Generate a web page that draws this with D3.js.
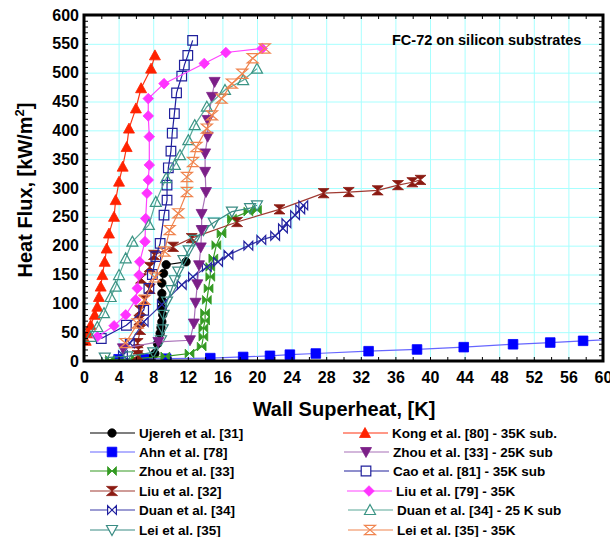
<!DOCTYPE html>
<html>
<head>
<meta charset="utf-8">
<script src="https://cdn.jsdelivr.net/npm/d3@7"></script>
<style>
  body { margin: 0; background: #fff; }
  text { font-family: "Liberation Sans", Arial, sans-serif; font-weight: bold; }
</style>
</head>
<body>
<svg id="chart" width="610" height="537"></svg>
<script>
// ---- data: [wall superheat K, heat flux kW/m2] ----
const ujereh = [[7.8,5],[8.2,13],[8.5,30],[8.8,48],[8.9,58],[9.0,68],[9.1,80],[9.0,92],[9.0,105],[9.0,117],[9.0,135],[9.2,152],[9.5,167],[11.8,172]];
const ahn = [[4.0,3],[6.9,3.5],[9.5,4],[14.6,5],[18.4,7],[21.5,9],[23.8,11],[26.8,13],[32.9,17],[38.5,20],[43.9,24],[49.6,29],[53.9,32],[57.7,35],[62,38]];
const zhou33 = [[3,2],[6,4],[9.4,8],[12.2,13],[13.6,25],[13.8,42],[13.8,57],[14.0,70],[14.0,83],[14.2,106],[14.4,126],[14.6,146],[14.6,163],[14.95,178],[15.3,201],[15.9,221],[17.1,247],[19.0,259],[20.0,262]];
const liu32 = [[6.2,10],[6.3,20],[6.2,31],[6.5,54],[6.4,71],[6.5,88],[7.0,106],[7.6,125],[6.6,143],[7.6,163],[8.1,184],[10.3,198],[12.45,213],[17.7,241],[22.6,263],[27.7,291],[30.6,293],[33.95,296],[36.3,305],[37.96,310],[38.9,314]];
const duan34 = [[4.5,10],[5.3,31],[6.9,68],[9.0,98],[11.3,132],[12.6,146],[14.2,163],[15.5,172],[16.7,184],[19.0,200],[20.5,210],[22.1,217],[23.0,230],[23.4,239],[24.4,253],[25.0,263],[25.35,270]];
const lei35 = [[2.4,6],[5.0,8],[8.0,15],[8.9,36],[9.1,55],[9.2,80],[9.6,103],[10.1,123],[10.5,140],[10.9,155],[11.5,175],[12.1,192],[12.8,210],[13.8,227],[15.0,240],[17.1,259],[19.2,265],[20.0,270]];
const kong80 = [[0.2,35],[0.46,48],[0.77,62],[1.24,80],[1.54,94],[1.73,111],[1.93,129],[2.12,149],[2.39,172],[2.62,195],[2.89,221],[3.47,250],[3.66,279],[4.05,311],[4.47,337],[4.93,371],[5.2,403],[6.0,438],[6.6,473],[7.75,507],[8.2,530]];
const zhou33sub = [[4.5,22],[8.6,33],[12.25,36],[12.7,65],[12.9,101],[13.1,133],[13.3,166],[13.5,197],[13.6,227],[13.6,255],[14.1,293],[14.0,328],[14.0,360],[14.3,389],[14.3,418],[14.8,458],[15.1,484]];
const cao81 = [[2.0,39],[4.9,62],[6.9,88],[7.5,126],[7.9,150],[8.3,181],[8.8,204],[9.25,253],[9.6,279],[9.6,305],[9.75,335],[10.05,364],[10.2,395],[10.45,429],[10.7,465],[11.3,494],[11.6,513],[12.0,530],[12.56,556]];
const liu79 = [[1.54,42],[3.47,61],[4.82,80],[5.98,106],[6.16,126],[6.36,149],[6.44,172],[7.05,207],[7.13,247],[7.28,291],[7.43,314],[7.55,340],[7.55,389],[7.43,425],[7.43,455],[9.25,481],[13.9,516],[16.4,535],[20.6,542]];
const duan34sub = [[0.77,42],[1.54,59],[2.31,83],[3.08,111],[3.66,129],[4.05,149],[4.82,178],[5.59,207],[7.5,236],[8.3,276],[9.5,317],[10.5,340],[11.1,357],[12.06,383],[12.8,409],[14.2,441],[16.3,470],[18.4,487],[20.0,507]];
const lei35sub = [[4.8,31],[6.2,65],[7.0,106],[8.2,145],[9.3,190],[9.9,227],[10.9,256],[11.9,293],[11.9,319],[12.6,345],[13.0,371],[14.2,403],[14.8,426],[15.9,455],[17.1,481],[18.3,498],[19.5,525],[20.9,542]];

const xTicks = d3.range(0, 61, 4);
const yTicks = d3.range(0, 601, 50);
const chartTitle = "FC-72 on silicon substrates";

// label, data, marker, stroke (marker), line colour, filled?
const seriesList = [
  { name: "Ujereh et al. [31]", data: ujereh, shape: "circle", color: "#000000", line: "#000000", fill: true },
  { name: "Ahn et al. [78]", data: ahn, shape: "square", color: "#0000ff", line: "#6666ff", fill: true },
  { name: "Zhou et al. [33]", data: zhou33, shape: "bowtie", color: "#349a22", line: "#349a22", fill: true },
  { name: "Liu et al. [32]", data: liu32, shape: "hourglass", color: "#8b1a12", line: "#a03a32", fill: true },
  { name: "Duan et al. [34]", data: duan34, shape: "bowtie", color: "#2222a0", line: "#3a3aa8", fill: false },
  { name: "Lei et al. [35]", data: lei35, shape: "down", color: "#3a8c84", line: "#3a8c84", fill: false },
  { name: "Kong et al. [80] - 35K sub.", data: kong80, shape: "up", color: "#ff2200", line: "#ff3311", fill: true },
  { name: "Zhou et al. [33] - 25K sub", data: zhou33sub, shape: "down", color: "#7c1f88", line: "#a870b8", fill: true },
  { name: "Cao et al. [81] - 35K sub", data: cao81, shape: "square", color: "#20209c", line: "#20209c", fill: false },
  { name: "Liu et al. [79] - 35K", data: liu79, shape: "diamond", color: "#ff33ff", line: "#ff44ff", fill: true },
  { name: "Duan et al. [34] - 25 K sub", data: duan34sub, shape: "up", color: "#3a9484", line: "#5aa898", fill: false },
  { name: "Lei et al. [35] - 35K", data: lei35sub, shape: "hourglass", color: "#f0844e", line: "#f0844e", fill: false }
];

const margin = { top: 15, left: 84, plotW: 519, plotH: 346 };
const svg = d3.select("#chart");

const x = d3.scaleLinear().domain([0, 60]).range([0, margin.plotW]);
const y = d3.scaleLinear().domain([0, 600]).range([margin.plotH, 0]);

const plot = svg.append("g").attr("transform", `translate(${margin.left},${margin.top})`);

// grid
plot.append("g")
  .attr("transform", `translate(0,${margin.plotH})`)
  .call(d3.axisBottom(x).tickValues(xTicks).tickSize(-margin.plotH).tickFormat(""))
  .call(g => g.select(".domain").remove())
  .selectAll("line").attr("stroke", "#a8ffff").attr("stroke-width", 1);
plot.append("g")
  .call(d3.axisLeft(y).tickValues(yTicks).tickSize(-margin.plotW).tickFormat(""))
  .call(g => g.select(".domain").remove())
  .selectAll("line").attr("stroke", "#a8ffff").attr("stroke-width", 1);

// marker paths
function markerPath(shape, r) {
  switch (shape) {
    case "circle": return d3.symbol(d3.symbolCircle, Math.PI * r * r)();
    case "square": return `M${-r},${-r}H${r}V${r}H${-r}Z`;
    case "diamond": return `M0,${-r * 1.15}L${r * 1.15},0L0,${r * 1.15}L${-r * 1.15},0Z`;
    case "up": return `M0,${-r * 1.1}L${r * 1.1},${r * 0.9}L${-r * 1.1},${r * 0.9}Z`;
    case "down": return `M0,${r * 1.1}L${r * 1.1},${-r * 0.9}L${-r * 1.1},${-r * 0.9}Z`;
    case "hourglass": return `M${-r * 1.2},${-r}H${r * 1.2}L${-r * 1.2},${r}H${r * 1.2}Z`;
    case "bowtie": return `M${-r},${-r}V${r}L${r},${-r}V${r}Z`;
  }
}
const markerR = { circle: 4.2, square: 4.8, diamond: 4.6, up: 5, down: 5, hourglass: 4.6, bowtie: 4.4 };

const clipId = "plotclip";
svg.append("defs").append("clipPath").attr("id", clipId)
  .append("rect").attr("width", margin.plotW).attr("height", margin.plotH);

const drawArea = plot.append("g").attr("clip-path", `url(#${clipId})`);
const line = d3.line().x(d => x(d[0])).y(d => y(d[1]));

seriesList.forEach(s => {
  const g = drawArea.append("g");
  g.append("path")
    .attr("d", line(s.data))
    .attr("fill", "none")
    .attr("stroke", s.line)
    .attr("stroke-width", 1.2);
  g.selectAll("path.mk")
    .data(s.data)
    .join("path")
    .attr("class", "mk")
    .attr("transform", d => `translate(${x(d[0])},${y(d[1])})`)
    .attr("d", markerPath(s.shape, markerR[s.shape]))
    .attr("fill", s.fill ? s.color : "#fff")
    .attr("fill-opacity", s.fill ? 1 : 0)
    .attr("stroke", s.color)
    .attr("stroke-width", s.fill ? 0.8 : 1.2);
});

// inward minor ticks on all four sides
const tickLen = 4;
plot.append("g")
  .attr("transform", `translate(0,${margin.plotH})`)
  .call(d3.axisTop(x).tickValues(d3.range(0, 61, 2)).tickSize(tickLen).tickFormat(""))
  .call(g => g.select(".domain").remove());
plot.append("g")
  .call(d3.axisBottom(x).tickValues(d3.range(0, 61, 2)).tickSize(tickLen).tickFormat(""))
  .call(g => g.select(".domain").remove());
plot.append("g")
  .call(d3.axisRight(y).tickValues(d3.range(0, 601, 10)).tickSize(tickLen).tickFormat(""))
  .call(g => g.select(".domain").remove());
plot.append("g")
  .attr("transform", `translate(${margin.plotW},0)`)
  .call(d3.axisLeft(y).tickValues(d3.range(0, 601, 10)).tickSize(tickLen).tickFormat(""))
  .call(g => g.select(".domain").remove());

// frame
plot.append("rect")
  .attr("width", margin.plotW).attr("height", margin.plotH)
  .attr("fill", "none").attr("stroke", "#000").attr("stroke-width", 3);

// tick labels
const xAxis = plot.append("g")
  .attr("transform", `translate(0,${margin.plotH})`)
  .call(d3.axisBottom(x).tickValues(xTicks).tickSize(0).tickPadding(11).tickFormat(d3.format("d")));
xAxis.select(".domain").remove();
xAxis.selectAll("text").attr("font-size", 16).attr("fill", "#000");

const yAxis = plot.append("g")
  .call(d3.axisLeft(y).tickValues(yTicks).tickSize(0).tickPadding(5).tickFormat(d3.format("d")));
yAxis.select(".domain").remove();
yAxis.selectAll("text").attr("font-size", 16).attr("fill", "#000");

// titles
svg.append("text")
  .attr("x", 344).attr("y", 416)
  .attr("text-anchor", "middle").attr("font-size", 20)
  .text("Wall Superheat, [K]");

const yTitle = svg.append("text")
  .attr("transform", "translate(32,190) rotate(-90)")
  .attr("text-anchor", "middle").attr("font-size", 20);
yTitle.append("tspan").text("Heat Flux, [kW/m");
yTitle.append("tspan").attr("font-size", 13).attr("dy", -8).text("2");
yTitle.append("tspan").attr("dy", 8).text("]");

svg.append("text")
  .attr("x", 392).attr("y", 45)
  .attr("font-size", 14.5)
  .text(chartTitle);

// legend
const legendRows = [433, 452, 471, 491, 510, 530];
const rightShift = [0, 1, 1, 4, 5, 5];
seriesList.forEach((s, i) => {
  const col = i < 6 ? 0 : 1;
  const row = i % 6;
  const x0 = col === 0 ? 90 : 343 + rightShift[row];
  const g = svg.append("g").attr("transform", `translate(${x0},${legendRows[row]})`);
  g.append("line").attr("x1", 0).attr("x2", 45).attr("y1", 0).attr("y2", 0)
    .attr("stroke", s.line).attr("stroke-width", 1.2);
  g.append("path")
    .attr("transform", "translate(22,0)")
    .attr("d", markerPath(s.shape, markerR[s.shape]))
    .attr("fill", s.fill ? s.color : "#fff")
    .attr("stroke", s.color)
    .attr("stroke-width", s.fill ? 0.8 : 1.2);
  g.append("text")
    .attr("x", 49).attr("y", 5)
    .attr("font-size", 13.5)
    .text(s.name);
});
</script>
</body>
</html>
